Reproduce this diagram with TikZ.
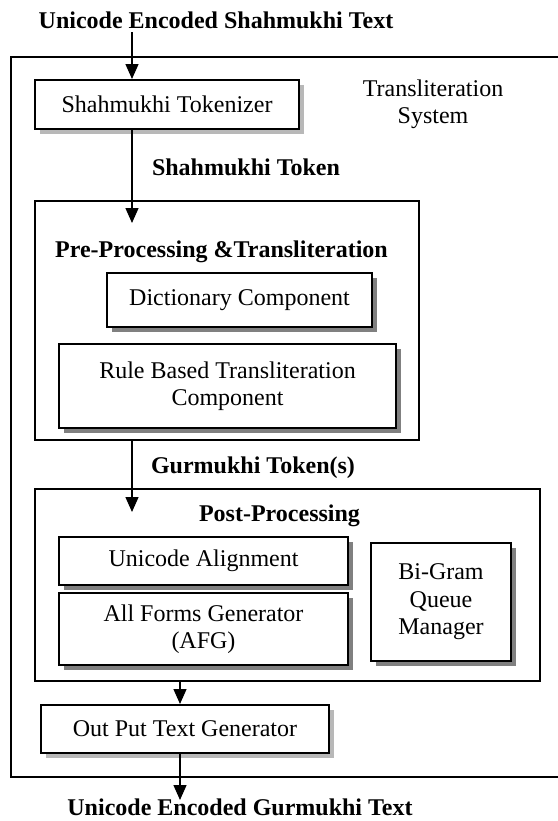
\documentclass[tikz,border=0pt]{standalone}
\usepackage{fontspec}
\setmainfont{Liberation Serif}
\usetikzlibrary{arrows.meta,shadows}
\begin{document}
\begin{tikzpicture}[x=0.5pt,y=-0.5pt,
  every node/.style={font=\fontsize{12pt}{13.7pt}\selectfont, inner sep=0pt},
  sbox/.style={draw, line width=1pt, fill=white, align=center,
    drop shadow={shadow xshift=2.5pt, shadow yshift=-2.5pt, opacity=1, fill=black!50}},
  dbox/.style={draw, line width=1pt, fill=white, align=center,
    drop shadow={shadow xshift=2.5pt, shadow yshift=-2.5pt, opacity=1, fill=black!28}},
  frame/.style={draw, line width=0.75pt},
  lbl/.style={font=\fontsize{12pt}{13.7pt}\selectfont\bfseries, anchor=base},
  arr/.style={line width=0.7pt, -{Triangle[width=6.5pt,length=7.5pt]}}]
\useasboundingbox (0,0) rectangle (558,821);
% outer system frame
\node[draw, line width=1pt, minimum width=276pt, minimum height=360pt] (sys) at (287,417) {};
\node[align=center] (sysl) at (433,104) {Transliteration\\System};
% top input label
\node[lbl] (inl) at (216,28) {Unicode Encoded Shahmukhi Text};
\coordinate (in) at (132,32);
% tokenizer
\node[dbox, minimum width=132pt, minimum height=24.5pt] (tok) at (167,104.5) {Shahmukhi Tokenizer};
\node[lbl] (tokl) at (246,175) {Shahmukhi Token};
% pre-processing
\node[frame, minimum width=192pt, minimum height=119.5pt] (pre) at (227,320.5) {};
\node[lbl] (prel) at (221.5,257) {Pre-Processing \&Transliteration};
\node[sbox, minimum width=132.5pt, minimum height=27pt] (dict) at (239.5,300) {Dictionary Component};
\node[sbox, minimum width=168.5pt, minimum height=42pt] (rule) at (227.5,386) {Rule Based Transliteration\\Component};
\coordinate (p1) at (132,223);
\node[lbl] (gurl) at (253,473) {Gurmukhi Token(s)};
\coordinate (p2) at (132,512);
% post-processing
\node[frame, minimum width=252.5pt, minimum height=96pt] (post) at (287.5,585) {};
\node[lbl] (postl) at (279.5,521) {Post-Processing};
\node[sbox, minimum width=144.5pt, minimum height=24pt] (ua) at (203.5,561) {Unicode Alignment};
\node[sbox, minimum width=144.5pt, minimum height=36pt] (afg) at (203.5,629) {All Forms Generator\\(AFG)};
\node[sbox, minimum width=70pt, minimum height=59pt] (bg) at (441,602) {Bi-Gram\\Queue\\Manager};
% output
\node[dbox, minimum width=144pt, minimum height=24pt] (outp) at (185,729) {Out Put Text Generator};
\coordinate (xo) at (180,0);
\coordinate (p4) at (180,800);
\node[lbl] (outl) at (240,815) {Unicode Encoded Gurmukhi Text};
% arrows
\draw[arr] (in) -- (in |- tok.north);
\draw[arr] (tok.south -| p1) -- (p1);
\draw[arr] (pre.south -| p2) -- (p2);
\draw[arr] (post.south -| xo) -- (outp.north -| xo);
\draw[arr] (outp.south -| p4) -- (p4);
\end{tikzpicture}
\end{document}
